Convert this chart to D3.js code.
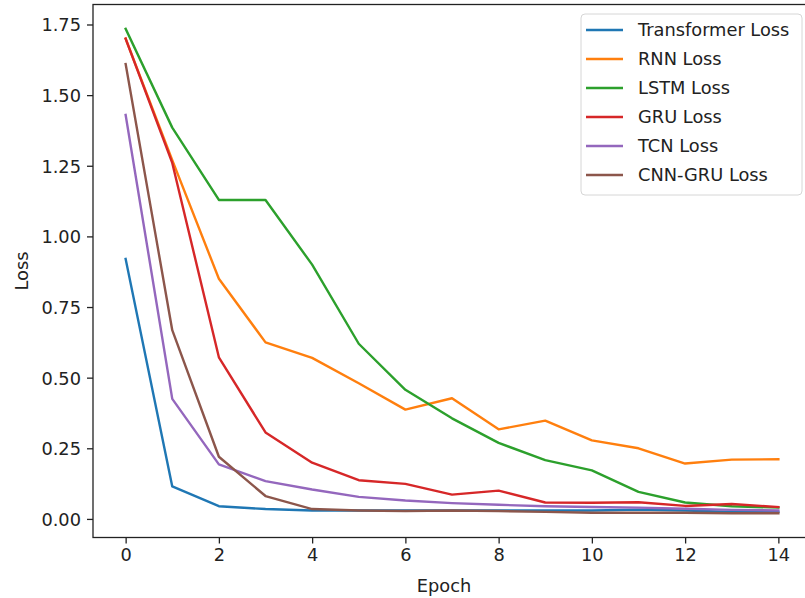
<!DOCTYPE html>
<html>
<head>
  <title>Model Loss Curves</title>
  <script src="https://cdn.jsdelivr.net/npm/d3@7"></script>
  <style>
    body { margin: 0; background: #fff; font-family: "DejaVu Sans", sans-serif; }
    .line { fill: none; stroke-width: 2.4; stroke-linejoin: round; stroke-linecap: square; }
    .tick text { font-family: "DejaVu Sans", sans-serif; font-size: 17.8px; fill: #222; }
    .tick line { stroke: #222; stroke-width: 1.3; }
  </style>
</head>
<body>
  <div id="chart"></div>
  <script>
    const epochs = d3.range(0, 15);
    const seriesNames = ["Transformer Loss", "RNN Loss", "LSTM Loss", "GRU Loss", "TCN Loss", "CNN-GRU Loss"];
    const transformerLoss = [0.92, 0.115, 0.045, 0.035, 0.03, 0.03, 0.03, 0.03, 0.03, 0.03, 0.03, 0.033, 0.03, 0.025, 0.025];
    const rnnLoss = [1.70, 1.27, 0.85, 0.625, 0.57, 0.48, 0.387, 0.427, 0.317, 0.348, 0.278, 0.25, 0.196, 0.21, 0.211];
    const lstmLoss = [1.735, 1.385, 1.129, 1.129, 0.90, 0.62, 0.457, 0.356, 0.269, 0.208, 0.172, 0.096, 0.058, 0.045, 0.04];
    const gruLoss = [1.70, 1.26, 0.572, 0.306, 0.199, 0.137, 0.124, 0.086, 0.10, 0.058, 0.057, 0.059, 0.046, 0.053, 0.042];
    const tcnLoss = [1.43, 0.425, 0.193, 0.134, 0.104, 0.078, 0.065, 0.056, 0.05, 0.045, 0.042, 0.04, 0.036, 0.032, 0.03];
    const cnnGruLoss = [1.61, 0.668, 0.22, 0.081, 0.035, 0.03, 0.028, 0.03, 0.028, 0.025, 0.022, 0.022, 0.022, 0.02, 0.02];
    const colors = ["#1f77b4", "#ff7f0e", "#2ca02c", "#d62728", "#9467bd", "#8c564b"];
    const xTicks = [0, 2, 4, 6, 8, 10, 12, 14];
    const yTicks = [0, 0.25, 0.5, 0.75, 1.0, 1.25, 1.5, 1.75];

    const allSeries = [transformerLoss, rnnLoss, lstmLoss, gruLoss, tcnLoss, cnnGruLoss];
    const series = seriesNames.map((name, i) => ({
      name,
      color: colors[i],
      values: epochs.map((e, j) => ({ epoch: e, loss: allSeries[i][j] }))
    }));

    const width = 805, height = 598;
    const plot = { left: 93, right: 811, top: 4.5, bottom: 537.5 };
    const fontSize = 17.8;

    // matplotlib-style 5% margins
    const xPad = (d3.max(epochs) - d3.min(epochs)) * 0.05;
    const yMin = d3.min(allSeries.flat()), yMax = d3.max(allSeries.flat());
    const yPad = (yMax - yMin) * 0.05;

    const x = d3.scaleLinear()
      .domain([d3.min(epochs) - xPad, d3.max(epochs) + xPad])
      .range([plot.left, plot.right]);
    const y = d3.scaleLinear()
      .domain([yMin - yPad, yMax + yPad])
      .range([plot.bottom, plot.top]);

    const svg = d3.select("#chart")
      .append("svg")
        .attr("width", width)
        .attr("height", height);

    svg.append("defs").append("clipPath").attr("id", "clip")
      .append("rect")
        .attr("x", plot.left).attr("y", plot.top)
        .attr("width", plot.right - plot.left).attr("height", plot.bottom - plot.top);

    const line = d3.line()
      .x(d => x(d.epoch))
      .y(d => y(d.loss));

    svg.append("g")
      .attr("clip-path", "url(#clip)")
      .selectAll("path")
      .data(series)
      .join("path")
        .attr("class", "line")
        .attr("stroke", d => d.color)
        .attr("d", d => line(d.values));

    // axes
    const xAxis = svg.append("g")
      .attr("transform", `translate(0,${plot.bottom})`)
      .call(d3.axisBottom(x).tickValues(xTicks).tickFormat(d3.format("d")).tickSize(6).tickPadding(5));
    xAxis.select(".domain").remove();

    const yAxis = svg.append("g")
      .attr("transform", `translate(${plot.left},0)`)
      .call(d3.axisLeft(y).tickValues(yTicks).tickFormat(d3.format(".2f")).tickSize(6).tickPadding(6));
    yAxis.select(".domain").remove();
    yAxis.selectAll(".tick text").attr("dy", "0.36em");

    // frame
    svg.append("rect")
      .attr("x", plot.left).attr("y", plot.top)
      .attr("width", plot.right - plot.left).attr("height", plot.bottom - plot.top)
      .attr("fill", "none").attr("stroke", "#222").attr("stroke-width", 1.3);

    svg.append("text")
      .attr("x", (plot.left + plot.right) / 2 - 8)
      .attr("y", 592)
      .attr("text-anchor", "middle")
      .attr("font-size", fontSize).attr("fill", "#222")
      .text("Epoch");

    svg.append("text")
      .attr("transform", `translate(28,${(plot.top + plot.bottom) / 2}) rotate(-90)`)
      .attr("text-anchor", "middle")
      .attr("font-size", fontSize).attr("fill", "#222")
      .text("Loss");

    // legend
    const legend = svg.append("g").attr("transform", "translate(581,14)");
    legend.append("rect")
      .attr("width", 221).attr("height", 181).attr("rx", 4)
      .attr("fill", "#fff").attr("fill-opacity", 0.8)
      .attr("stroke", "#d6d6d6").attr("stroke-width", 1);
    const item = legend.selectAll(".item")
      .data(series)
      .join("g")
        .attr("class", "item")
        .attr("transform", (d, i) => `translate(0,${16 + i * 29})`);
    item.append("line")
      .attr("x1", 5).attr("x2", 42)
      .attr("stroke", d => d.color).attr("stroke-width", 2.4);
    item.append("text")
      .attr("x", 57).attr("dy", "0.36em")
      .attr("font-size", fontSize).attr("fill", "#222")
      .text(d => d.name);
  </script>
</body>
</html>
